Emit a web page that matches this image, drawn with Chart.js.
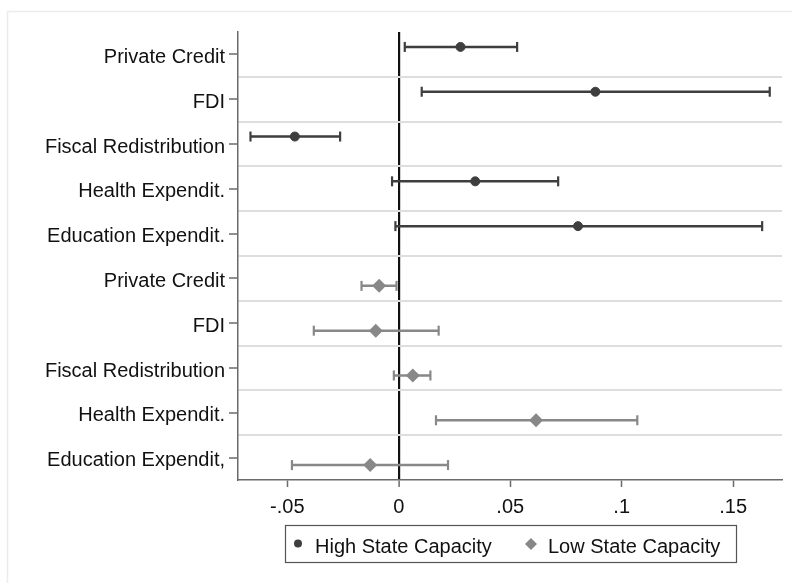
<!DOCTYPE html>
<html>
<head>
<meta charset="utf-8">
<script src="https://cdn.jsdelivr.net/npm/chart.js@4.4.1/dist/chart.umd.min.js"></script>
<style>
  html, body { margin: 0; padding: 0; background: #ffffff; }
  #wrap { width: 792px; height: 583px; position: relative; }
</style>
</head>
<body>
<div id="wrap"><canvas id="c" width="792" height="583"></canvas></div>
<script>
// Row labels, top to bottom (first five: high capacity, last five: low capacity)
const categories = [
  'Private Credit', 'FDI', 'Fiscal Redistribution', 'Health Expendit.', 'Education Expendit.',
  'Private Credit', 'FDI', 'Fiscal Redistribution', 'Health Expendit.', 'Education Expendit,'
];

// High state capacity: point estimates and confidence bounds
const highEst  = [0.0277, 0.0882, -0.0466, 0.0343, 0.0804];
const highLow  = [0.0027, 0.0103, -0.0665, -0.0030, -0.0015];
const highHigh = [0.0531, 0.1664, -0.0263, 0.0715, 0.1630];

// Low state capacity: point estimates and confidence bounds
const lowEst  = [-0.0088, -0.0103, 0.0063, 0.0616, -0.0128];
const lowLow  = [-0.0167, -0.0381, -0.0022, 0.0167, -0.0479];
const lowHigh = [-0.0010, 0.0179, 0.0142, 0.1070, 0.0221];

// Horizontal axis ticks
const xTickValues = [-0.05, 0, 0.05, 0.1, 0.15];
const xTickLabels = ['-.05', '0', '.05', '.1', '.15'];

const FONT = '"Liberation Sans", Arial, Helvetica, sans-serif';
const HIGH_COLOR = '#3e3e3e';
const LOW_COLOR = '#888888';
const AXIS_COLOR = '#6a6a6a';

// Each series sits slightly above / below its row tick
const HIGH_ROW0 = 0, HIGH_SHIFT = -1 / 6;
const LOW_ROW0 = 5, LOW_SHIFT = 1 / 6;

function pointData(est, row0, shift) {
  return est.map((v, i) => ({ x: v, y: row0 + i + shift }));
}
function whiskerData(lo, hi, row0, shift) {
  const pts = [];
  lo.forEach((v, i) => {
    const y = row0 + i + shift;
    pts.push({ x: v, y: y }, { x: hi[i], y: y }, { x: null, y: null });
  });
  return pts;
}

function whiskerSet(lo, hi, row0, shift, color) {
  return {
    label: '',
    data: whiskerData(lo, hi, row0, shift),
    showLine: true,
    spanGaps: false,
    borderColor: color,
    borderWidth: 2.5,
    pointStyle: 'line',
    pointRotation: 90,
    pointRadius: 5,
    pointBorderWidth: 2.2,
    pointBorderColor: color,
    pointBackgroundColor: color,
    order: 2
  };
}

// Faint frame around the graph region
const framePlugin = {
  id: 'frame',
  beforeDraw(chart) {
    const ctx = chart.ctx;
    ctx.save();
    ctx.strokeStyle = '#ececec';
    ctx.lineWidth = 1.5;
    ctx.beginPath();
    ctx.moveTo(7.5, chart.height);
    ctx.lineTo(7.5, 11.5);
    ctx.lineTo(chart.width, 11.5);
    ctx.stroke();
    ctx.restore();
  }
};

// Boxed legend centred under the plot area
const boxLegendPlugin = {
  id: 'boxLegend',
  afterDraw(chart) {
    const ctx = chart.ctx;
    const area = chart.chartArea;
    const cx = (area.left + area.right) / 2;
    const boxW = 451, boxH = 37, boxTop = 525.5;
    const left = Math.round(cx - boxW / 2) + 0.5;
    ctx.save();
    ctx.strokeStyle = '#555555';
    ctx.lineWidth = 1.2;
    ctx.strokeRect(left, boxTop, boxW, boxH);

    const items = chart.data.datasets.filter(d => d.label);
    const midY = boxTop + boxH / 2;
    ctx.font = '20px ' + FONT;
    ctx.textBaseline = 'alphabetic';
    const slots = [left + 12.5, left + 245.5];
    items.forEach((d, i) => {
      const mx = slots[i];
      ctx.fillStyle = d.pointBackgroundColor;
      ctx.beginPath();
      if (d.pointStyle === 'rectRot') {
        const r = 6;
        ctx.moveTo(mx - r, midY);
        ctx.lineTo(mx, midY - r);
        ctx.lineTo(mx + r, midY);
        ctx.lineTo(mx, midY + r);
        ctx.closePath();
      } else {
        ctx.arc(mx, midY - 0.5, 4, 0, Math.PI * 2);
      }
      ctx.fill();
      ctx.fillStyle = '#111111';
      ctx.fillText(d.label, mx + 17, boxTop + 27.5);
    });
    ctx.restore();
  }
};

const yTicks = [];
for (let k = 0; k < categories.length; k++) {
  yTicks.push({ value: k });
  if (k < categories.length - 1) yTicks.push({ value: k + 0.5 });
}

new Chart(document.getElementById('c'), {
  type: 'scatter',
  data: {
    datasets: [
      {
        label: 'High State Capacity',
        data: pointData(highEst, HIGH_ROW0, HIGH_SHIFT),
        pointStyle: 'circle',
        pointRadius: 4.5,
        pointBorderWidth: 1,
        pointBackgroundColor: HIGH_COLOR,
        pointBorderColor: HIGH_COLOR,
        order: 0
      },
      {
        label: 'Low State Capacity',
        data: pointData(lowEst, LOW_ROW0, LOW_SHIFT),
        pointStyle: 'rectRot',
        pointRadius: 7,
        pointBorderWidth: 0,
        pointBackgroundColor: LOW_COLOR,
        pointBorderColor: LOW_COLOR,
        order: 0
      },
      whiskerSet(highLow, highHigh, HIGH_ROW0, HIGH_SHIFT, HIGH_COLOR),
      whiskerSet(lowLow, lowHigh, LOW_ROW0, LOW_SHIFT, LOW_COLOR)
    ]
  },
  options: {
    responsive: false,
    animation: false,
    events: [],
    devicePixelRatio: 1,
    layout: { padding: { top: 32, right: 10, bottom: 0, left: 0 } },
    plugins: {
      legend: { display: false },
      tooltip: { enabled: false }
    },
    scales: {
      x: {
        type: 'linear',
        min: -0.0721,
        max: 0.1719,
        afterBuildTicks: s => { s.ticks = xTickValues.map(v => ({ value: v })); },
        afterFit: s => { s.height = 103; },
        ticks: {
          autoSkip: false,
          maxRotation: 0,
          padding: 8,
          color: '#111111',
          font: { family: FONT, size: 20 },
          callback: v => xTickLabels[xTickValues.indexOf(v)]
        },
        grid: {
          drawOnChartArea: true,
          drawTicks: true,
          tickLength: 7,
          tickWidth: 1.5,
          tickColor: AXIS_COLOR,
          color: c => (c.tick && c.tick.value === 0) ? '#111111' : 'rgba(0,0,0,0)',
          lineWidth: c => (c.tick && c.tick.value === 0) ? 2.2 : 1
        },
        border: { display: true, color: AXIS_COLOR, width: 1.5 }
      },
      y: {
        type: 'linear',
        reverse: true,
        min: -0.5,
        max: 9.5,
        afterBuildTicks: s => { s.ticks = yTicks.map(t => ({ value: t.value })); },
        afterFit: s => { s.width = 238; },
        ticks: {
          autoSkip: false,
          padding: 4,
          labelOffset: 3,
          color: '#111111',
          font: { family: FONT, size: 20 },
          callback: v => Number.isInteger(v) ? categories[v] : ''
        },
        grid: {
          drawOnChartArea: true,
          drawTicks: true,
          tickLength: 9,
          tickWidth: 1.5,
          tickColor: c => (c.tick && Number.isInteger(c.tick.value)) ? AXIS_COLOR : 'rgba(0,0,0,0)',
          color: c => (c.tick && !Number.isInteger(c.tick.value)) ? '#dedede' : 'rgba(0,0,0,0)',
          lineWidth: 2
        },
        border: { display: true, color: AXIS_COLOR, width: 1.5 }
      }
    }
  },
  plugins: [framePlugin, boxLegendPlugin]
});
</script>
</body>
</html>
